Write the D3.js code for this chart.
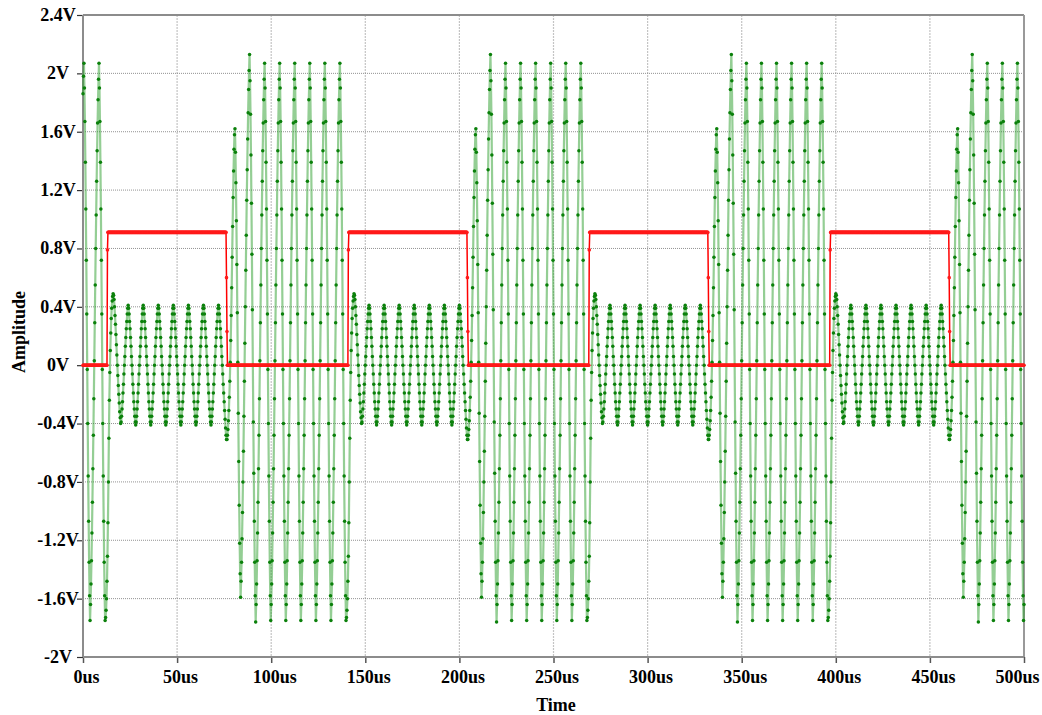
<!DOCTYPE html>
<html>
<head>
<meta charset="utf-8">
<script src="https://cdnjs.cloudflare.com/ajax/libs/d3/7.8.5/d3.min.js"></script>
<style>
body { margin: 0; background: #ffffff; }
text { font-family: "Liberation Serif", "Times New Roman", serif; font-weight: bold; }
</style>
</head>
<body>
<script>
// ticks
var xTicks = [0, 50, 100, 150, 200, 250, 300, 350, 400, 450, 500];
var xTickLabels = ["0us", "50us", "100us", "150us", "200us", "250us", "300us", "350us", "400us", "450us", "500us"];
var yTicks = [-2, -1.6, -1.2, -0.8, -0.4, 0, 0.4, 0.8, 1.2, 1.6, 2, 2.4];
var yTickLabels = ["-2V", "-1.6V", "-1.2V", "-0.8V", "-0.4V", "0V", "0.4V", "0.8V", "1.2V", "1.6V", "2V", "2.4V"];

// both traces share one sample step (us)
var sampleStep = 0.25;

// green trace, in centivolts, one value per sample
var greenLead = [186, 198];
var greenBigCycle = [207, 190, 167, 139, 107, 72, 35, -3, -40, -76, -107, -135, -158, -175, -164, -150,
    -134, -115, -94, -71, -48, -23, 3, 29, 55, 80, 103, 126, 147, 166, 182, 196];
var greenSmallCycle = [41, 39, 35, 30, 25, 19, 13, 6, 0, -6, -13, -19, -25, -30, -35, -39,
    -41, -39, -35, -30, -25, -19, -13, -6, 0, 6, 13, 19, 25, 30, 35, 39];
// big -> small (bit goes high)
var greenToSmall = [207, 190, 167, 139, 107, 72, 35, -3, -40, -76, -107, -135, -158,
    -175, -173, -168, -160, -148, -131, -108, -80, -50, -24, -5, 10, 22, 32, 39, 44, 47, 49,
    48, 45, 40, 34, 28, 21, 14, 7, 0, -7, -14, -20, -26, -32, -36, -40,
    -39, -35, -30, -25, -19, -13, -6, 0, 6, 13, 19, 25, 30, 35, 39];
// small -> big (bit goes low)
var greenToBig = [41, 39, 35, 30, 25, 19, 13, 6, 0, -6, -13, -19, -25, -31, -37, -43,
    -48, -51, -51, -48, -44, -38, -31, -22, -11, 2, 17, 34, 53, 74, 95, 115, 133, 148, 158,
    162, 146, 125, 99, 69, 36, 2, -33, -66, -96, -122, -143, -159,
    -148, -135, -119, -101, -80, -59, -35, -11, 15, 40, 65, 89, 113, 134, 155, 173, 189, 202, 213,
    195, 172, 144, 111, 76, 38, 0, -39, -74, -107, -135, -158, -176,
    -164, -150, -134, -115, -94, -71, -48, -23, 3, 29, 55, 80, 103, 126, 147, 166, 182, 196];
var greenOrder = ["lead", "big",
    "toSmall", "small", "small", "small", "small", "small", "small", "toBig", "big", "big", "big", "big", "big",
    "toSmall", "small", "small", "small", "small", "small", "small", "toBig", "big", "big", "big", "big", "big",
    "toSmall", "small", "small", "small", "small", "small", "small", "toBig", "big", "big", "big", "big", "big",
    "toSmall", "small", "small", "small", "small", "small", "small", "toBig", "big", "big", "big"];

// red trace as runs: level (V) and how many samples it holds
var redLevels = [0, 0.79, 0.91, 0.6, 0.23, 0, 0.79, 0.91, 0.6, 0.23, 0, 0.79, 0.91, 0.6, 0.23, 0, 0.79, 0.91, 0.6, 0.23, 0];
var redCounts = [52, 1, 252, 1, 1, 257, 1, 252, 1, 1, 257, 1, 252, 1, 1, 257, 1, 252, 1, 1, 158];

var svgWidth = 1042;
var svgHeight = 715;
var plotLeft = 83, plotRight = 1024, plotTop = 15, plotBottom = 657;

var svg = d3.select("body").append("svg")
    .attr("width", svgWidth)
    .attr("height", svgHeight);

var xMin = d3.min(xTicks), xMax = d3.max(xTicks);
var yMin = d3.min(yTicks), yMax = d3.max(yTicks);

var x = d3.scaleLinear().domain([xMin, xMax]).range([plotLeft, plotRight]);
var y = d3.scaleLinear().domain([yMin, yMax]).range([plotBottom, plotTop]);

// build the traces
var pieces = { lead: greenLead, big: greenBigCycle, small: greenSmallCycle, toSmall: greenToSmall, toBig: greenToBig };
var greenCv = [];
greenOrder.forEach(function(name) { greenCv = greenCv.concat(pieces[name]); });
var green = greenCv.map(function(v, i) { return { t: i * sampleStep, v: v / 100 }; })
    .filter(function(d) { return d.t <= xMax; });

var red = [];
redLevels.forEach(function(level, k) {
    for (var n = 0; n < redCounts[k]; n++) red.push({ t: red.length * sampleStep, v: level });
});

// grid
var grid = svg.append("g");
grid.selectAll(".vgrid").data(xTicks.slice(1, -1)).enter().append("line")
    .attr("x1", function(d) { return x(d); })
    .attr("x2", function(d) { return x(d); })
    .attr("y1", y(yMax)).attr("y2", y(yMin))
    .attr("stroke", "#c4c4c4").attr("stroke-width", 1.2)
    .attr("stroke-dasharray", "2,1");
grid.selectAll(".hgrid").data(yTicks.slice(1, -1)).enter().append("line")
    .attr("x1", x(xMin)).attr("x2", x(xMax))
    .attr("y1", function(d) { return y(d); })
    .attr("y2", function(d) { return y(d); })
    .attr("stroke", "#939393").attr("stroke-width", 1)
    .attr("stroke-dasharray", "1,1");

// axes
var yAxis = svg.append("g")
    .attr("transform", "translate(" + plotLeft + ",0)")
    .call(d3.axisLeft(y).tickValues(yTicks).tickSize(6).tickPadding(4)
        .tickFormat(function(d, i) { return yTickLabels[i]; }));
yAxis.select(".domain").remove();
yAxis.selectAll(".tick line").attr("stroke", "#333").attr("stroke-width", 1.2);
yAxis.selectAll(".tick text")
    .attr("x", 58 - plotLeft)
    .attr("text-anchor", "middle")
    .attr("dy", "0.3em")
    .style("font-size", "18px")
    .attr("fill", "#000");

var xAxis = svg.append("g")
    .attr("transform", "translate(0," + plotBottom + ")")
    .call(d3.axisBottom(x).tickValues(xTicks).tickSize(6)
        .tickFormat(function(d, i) { return xTickLabels[i]; }));
xAxis.select(".domain").remove();
xAxis.selectAll(".tick line").attr("stroke", "#555").attr("stroke-width", 1.5);
xAxis.selectAll(".tick text")
    .attr("y", 13)
    .attr("dx", 3)
    .style("font-size", "18px")
    .attr("fill", "#000")
    .each(function(d) {
        // keep the last label inside the window
        var w = this.getComputedTextLength();
        var over = x(d) + 3 + w / 2 - (svgWidth - 3);
        if (over > 0) d3.select(this).attr("dx", 3 - over);
    });

// frame
var frame = svg.append("g").attr("fill", "none").attr("stroke-width", 2);
frame.append("line").attr("x1", plotLeft).attr("x2", plotRight).attr("y1", plotTop).attr("y2", plotTop).attr("stroke", "#8c8c8c");
frame.append("line").attr("x1", plotRight).attr("x2", plotRight).attr("y1", plotTop).attr("y2", plotBottom).attr("stroke", "#999");
frame.append("line").attr("x1", plotLeft).attr("x2", plotRight).attr("y1", plotBottom).attr("y2", plotBottom).attr("stroke", "#8c8c8c");
frame.append("line").attr("x1", plotLeft).attr("x2", plotLeft).attr("y1", plotTop).attr("y2", plotBottom).attr("stroke", "#8c8c8c");

// axis titles
svg.append("text")
    .attr("x", 556).attr("y", 711)
    .attr("text-anchor", "middle")
    .style("font-size", "18px")
    .text("Time");
svg.append("text")
    .attr("transform", "translate(25," + ((plotTop + plotBottom) / 2 - 4) + ") rotate(-90)")
    .attr("text-anchor", "middle")
    .style("font-size", "18px")
    .text("Amplitude");

// traces
var line = d3.line()
    .x(function(d) { return x(d.t); })
    .y(function(d) { return y(d.v); });

svg.append("path").datum(green)
    .attr("d", line)
    .attr("fill", "none")
    .attr("stroke", "#2a9d2a")
    .attr("stroke-opacity", 0.5)
    .attr("stroke-width", 2.2);
svg.append("g").selectAll("circle").data(green).enter().append("circle")
    .attr("cx", function(d) { return x(d.t); })
    .attr("cy", function(d) { return y(d.v); })
    .attr("r", 1.75)
    .attr("fill", "#0b800b");

svg.append("path").datum(red)
    .attr("d", line)
    .attr("fill", "none")
    .attr("stroke", "#ff0000")
    .attr("stroke-width", 1.5);
svg.append("g").selectAll("circle").data(red).enter().append("circle")
    .attr("cx", function(d) { return x(d.t); })
    .attr("cy", function(d) { return y(d.v); })
    .attr("r", 1.8)
    .attr("fill", "#ff1a1a");
</script>
</body>
</html>
